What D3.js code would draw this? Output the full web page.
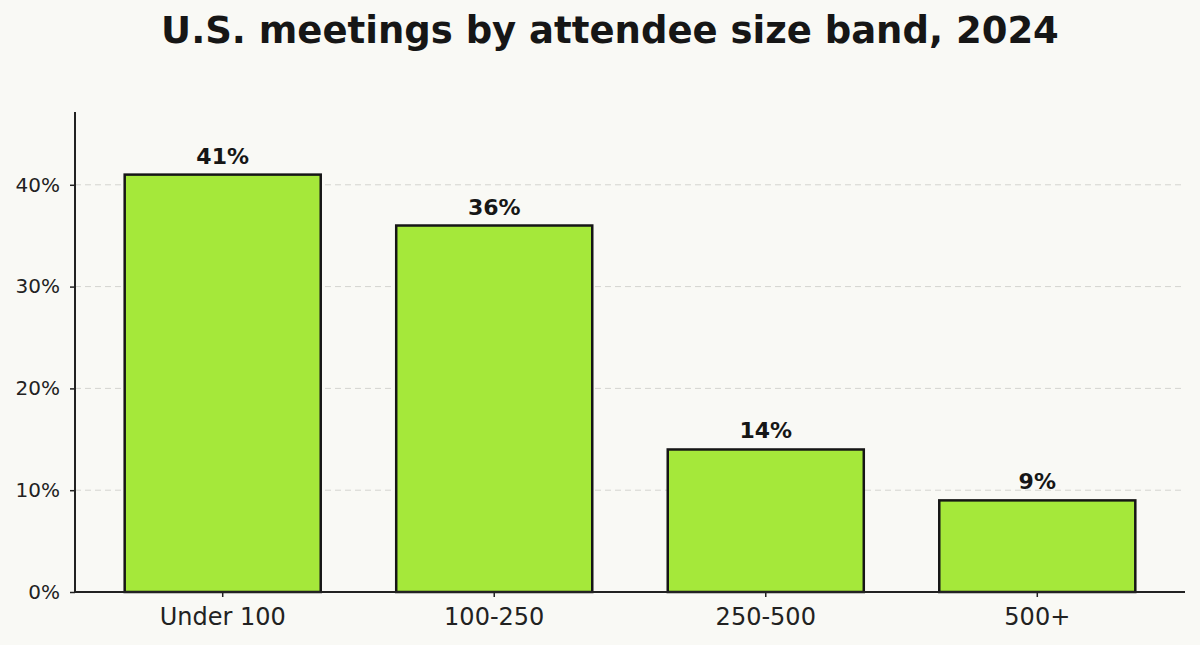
<!DOCTYPE html>
<html>
<head>
<meta charset="utf-8">
<script src="https://cdn.jsdelivr.net/npm/d3@7"></script>
<style>
  body { margin: 0; background: #f9f9f5; }
  svg { display: block; font-family: "DejaVu Sans", sans-serif; }
  .axis text { fill: #222; }
</style>
</head>
<body>
<svg id="chart"></svg>
<script>
// chart data
const categories = ['Under 100', '100-250', '250-500', '500+'];
const shares = [41, 36, 14, 9];
const yTicks = [0, 10, 20, 30, 40];
const title = 'U.S. meetings by attendee size band, 2024';

const width = 1200, height = 645;
const margin = {top: 112, right: 15, bottom: 53, left: 75};

const svg = d3.select('#chart')
    .attr('width', width)
    .attr('height', height);

svg.append('rect')
    .attr('width', width)
    .attr('height', height)
    .attr('fill', '#f9f9f5');

const innerW = width - margin.left - margin.right;
const innerH = height - margin.top - margin.bottom;

const chart = svg.append('g')
    .attr('transform', `translate(${margin.left},${margin.top})`);

// scales
const xScale = d3.scaleBand()
    .domain(categories)
    .range([0, innerW])
    .paddingInner(0.278)
    .paddingOuter(0.183);

const yScale = d3.scaleLinear()
    .domain([0, d3.max(shares) * 1.15])
    .range([innerH, 0]);

// gridlines (behind bars)
chart.selectAll('.grid')
    .data(yTicks.filter(d => d > 0))
    .join('line')
    .attr('class', 'grid')
    .attr('x1', 0)
    .attr('x2', innerW)
    .attr('y1', d => yScale(d))
    .attr('y2', d => yScale(d))
    .attr('stroke', '#d4d4d0')
    .attr('stroke-width', 1)
    .attr('stroke-dasharray', '6,4');

// bars
chart.selectAll('.bar')
    .data(shares)
    .join('rect')
    .attr('class', 'bar')
    .attr('x', (d, i) => xScale(categories[i]))
    .attr('width', xScale.bandwidth())
    .attr('y', d => yScale(d))
    .attr('height', d => innerH - yScale(d))
    .attr('fill', '#a5e83a')
    .attr('stroke', '#161616')
    .attr('stroke-width', 2.5);

// value labels
chart.selectAll('.value')
    .data(shares)
    .join('text')
    .attr('class', 'value')
    .attr('x', (d, i) => xScale(categories[i]) + xScale.bandwidth() / 2)
    .attr('y', d => yScale(d) - 11)
    .attr('text-anchor', 'middle')
    .attr('font-size', '22px')
    .attr('font-weight', 'bold')
    .attr('fill', '#161616')
    .text(d => `${d}%`);

// axes
const xAxis = d3.axisBottom(xScale)
    .tickSize(5)
    .tickPadding(11);

const yAxis = d3.axisLeft(yScale)
    .tickValues(yTicks)
    .tickFormat(d => `${d}%`)
    .tickSize(5)
    .tickPadding(10);

const xAxisG = chart.append('g')
    .attr('class', 'axis x-axis')
    .attr('transform', `translate(0,${innerH})`)
    .call(xAxis)
    .attr('font-family', '"DejaVu Sans", sans-serif');
xAxisG.selectAll('text').attr('font-size', '24px');

const yAxisG = chart.append('g')
    .attr('class', 'axis y-axis')
    .call(yAxis)
    .attr('font-family', '"DejaVu Sans", sans-serif');
yAxisG.selectAll('text').attr('font-size', '20px');

chart.selectAll('.axis path, .axis line')
    .attr('stroke', '#222')
    .attr('stroke-width', 2);
xAxisG.select('.domain').attr('d', `M0,0H${innerW}`);
yAxisG.select('.domain').attr('d', `M0,0V${innerH}`);
chart.selectAll('.axis .tick line').attr('stroke-width', 1.5);

// title
svg.append('text')
    .attr('x', 610)
    .attr('y', 43)
    .attr('text-anchor', 'middle')
    .attr('font-size', '37px')
    .attr('font-weight', 'bold')
    .attr('fill', '#161616')
    .text(title);
</script>
</body>
</html>
